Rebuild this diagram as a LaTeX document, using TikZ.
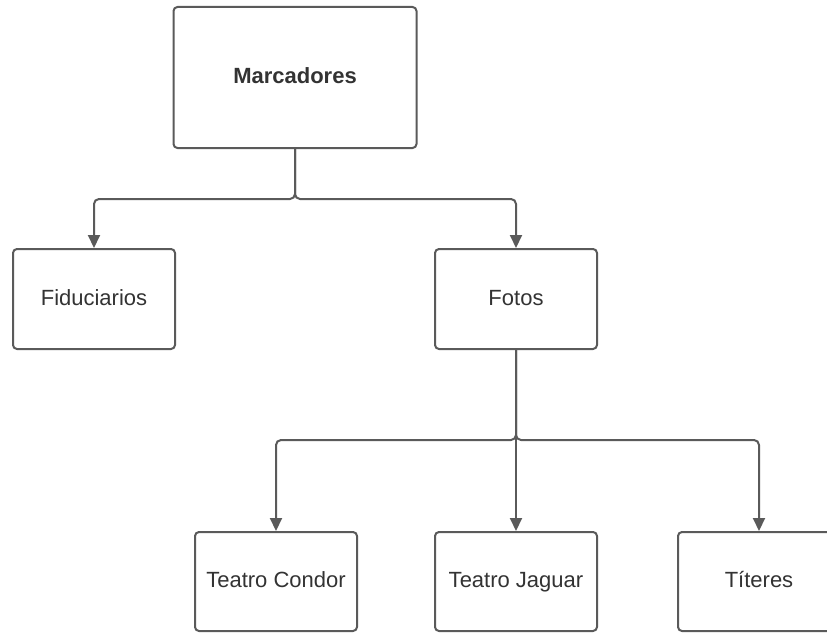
\documentclass[tikz,border=0pt]{standalone}
\usepackage{fontspec}
\setmainfont{Liberation Sans}
\usetikzlibrary{arrows.meta}
\definecolor{edgegray}{HTML}{5A5A5A}
\definecolor{textgray}{HTML}{333333}
\tikzset{
  card/.style={draw=edgegray, line width=2pt, rounded corners=4pt, fill=white,
    minimum width=162pt, minimum height=100pt, inner sep=0pt,
    text height=16pt, text depth=4pt,
    text=textgray, font=\fontsize{22}{26}\selectfont},
  link/.style={draw=edgegray, line width=2pt, rounded corners=5pt,
    -{Triangle[width=12pt,length=13pt]}},
}
\begin{document}
\begin{tikzpicture}[x=1pt, y=-1pt]
  \useasboundingbox (0,0) rectangle (827,634);
  % boxes
  \node[card, minimum width=243pt, minimum height=141pt,
        font=\fontsize{22}{26}\selectfont\bfseries] (marc) at (295,77.5) {Marcadores};
  \node[card] (fid)  at (94,299)    {Fiduciarios};
  \node[card] (fot)  at (516,299)   {Fotos};
  \node[card, minimum height=99pt] (cond) at (276,581.5) {Teatro Condor};
  \node[card, minimum height=99pt] (jag)  at (516,581.5) {Teatro Jaguar};
  \node[card, minimum height=99pt] (tit)  at (759,581.5) {Títeres};
  % branch points
  \coordinate (j1) at (295,199);
  \coordinate (j2) at (516,440);
  % connectors
  \draw[link] (marc.south) -- (j1) -| (fid.north);
  \draw[link] (marc.south) -- (j1) -| (fot.north);
  \draw[link] (fot.south) -- (j2) -| (cond.north);
  \draw[link] (fot.south) -- (jag.north);
  \draw[link] (fot.south) -- (j2) -| (tit.north);
\end{tikzpicture}
\end{document}
